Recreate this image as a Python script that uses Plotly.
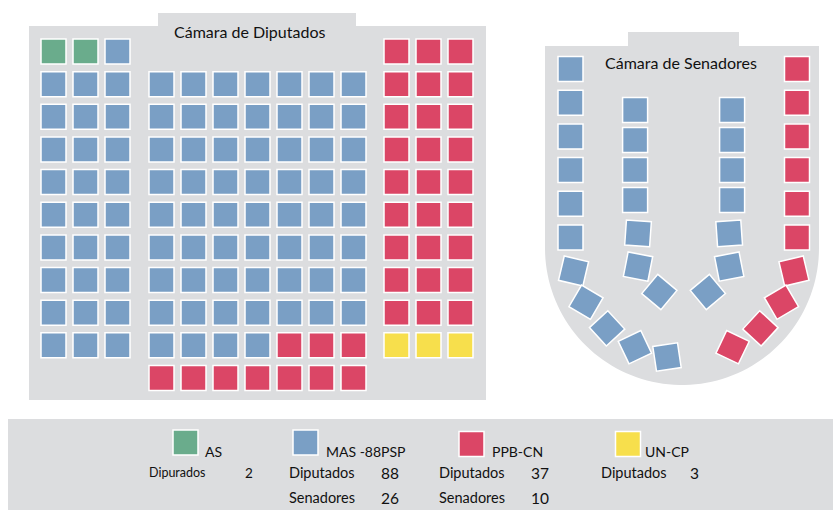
import numpy as np
import plotly.graph_objects as go

# ---------------- data ----------------
parties = ["AS", "MAS -88PSP", "PPB-CN", "UN-CP"]
deputies = [2, 88, 37, 3]
senators = [0, 26, 10, 0]
# seats actually drawn on the senate map of the reference (it shows 25 MAS seats)
senate_map_seats = [0, 25, 10, 0]
deputy_labels = ["Dipurados", "Diputados", "Diputados", "Diputados"]
senator_label = "Senadores"
colors = ["#6aac8c", "#7a9fc5", "#db4666", "#f7df4c"]

# ---------------- layout constants ----------------
W, H = 833, 510
GRAY = "#dcdddf"
FONT = "Lato, Liberation Sans, sans-serif"
SEAT = 25
SEAT_LINE = dict(color="white", width=1.5)

fig = go.Figure()
shapes = []


def rect(x0, y0, x1, y1):
    shapes.append(dict(type="rect", x0=x0, y0=y0, x1=x1, y1=y1,
                       fillcolor=GRAY, line=dict(width=0), layer="below"))


# Chamber of deputies panel
rect(29, 26, 486, 400)
rect(158, 13, 356, 26.5)
# Senate panel (U shape)
scx, scy, sr = 682, 248, 137
pts = [(545, 46), (628, 46), (628, 32), (739, 32), (739, 46), (819, 46), (819, scy)]
for t in np.linspace(0, np.pi, 80):
    pts.append((scx + sr * np.cos(t), scy + sr * np.sin(t)))
path = "M " + " L ".join(f"{x:.2f},{y:.2f}" for x, y in pts) + " Z"
shapes.append(dict(type="path", path=path, fillcolor=GRAY, line=dict(width=0), layer="below"))
# Legend box
rect(8, 419, 833, 510)

# ---------------- deputies seat grid ----------------
PITCH_X, PITCH_Y = 32, 32.65
ROW0 = 51.5
blocks = [  # (first column centre x, n columns, first row, n rows)
    (53.5, 3, 0, 10),
    (161.5, 7, 1, 10),
    (396.5, 3, 0, 10),
]
cells = []
for bx, nc, r0, nr in blocks:
    for r in range(r0, r0 + nr):
        for c in range(nc):
            cells.append((bx + c * PITCH_X, ROW0 + r * PITCH_Y))

# ---------------- senate seat path ----------------
def outer_side(sign):
    cx, cy, r = 683.75, 245, 113.25
    out = []
    for k in range(6):
        out.append((cx + sign * r, 69 + 33.7 * k, 0))
    for k in range(5):
        a = np.radians(13.3 + 17.05 * k)
        out.append((cx + sign * r * np.cos(a), cy + r * np.sin(a), -sign * np.degrees(a)))
    return out


def inner_side(sign):
    cx, cy, r = 683.6, 250, 48.5
    out = []
    for k in range(4):
        out.append((cx + sign * r, 110 + 30 * k, 0))
    for a_deg, tilt in zip([-20, 20, 60], [4, 11, 40]):
        a = np.radians(a_deg)
        out.append((cx + sign * r * np.cos(a), cy + r * np.sin(a), -sign * tilt))
    return out


senate_cells = outer_side(-1) + inner_side(-1) + inner_side(1) + outer_side(1)

# ---------------- seats traces ----------------
i_dep = 0
i_sen = 0
for p, col, nd, ns in zip(parties, colors, deputies, senate_map_seats):
    dc = cells[i_dep:i_dep + nd]
    i_dep += nd
    fig.add_trace(go.Scatter(
        x=[c[0] for c in dc], y=[c[1] for c in dc], mode="markers",
        marker=dict(symbol="square", size=SEAT, color=col, line=SEAT_LINE),
        hoverinfo="skip", showlegend=False))
    if ns:
        sc = senate_cells[i_sen:i_sen + ns]
        i_sen += ns
        fig.add_trace(go.Scatter(
            x=[c[0] for c in sc], y=[c[1] for c in sc], mode="markers",
            marker=dict(symbol="square", size=SEAT, color=col, line=SEAT_LINE,
                        angle=[c[2] for c in sc]),
            hoverinfo="skip", showlegend=False))

# ---------------- titles ----------------
ann = []
ann.append(dict(x=249.5, y=31, text="Cámara de Diputados", showarrow=False,
                font=dict(family=FONT, size=16, color="#111"), xanchor="center", yanchor="middle"))
ann.append(dict(x=680.5, y=62, text="Cámara de Senadores", showarrow=False,
                font=dict(family=FONT, size=16, color="#111"), xanchor="center", yanchor="middle"))

# ---------------- legend ----------------
leg_sq = [(185.5, 442.5), (305.5, 442.5), (471.5, 444), (628, 444)]
leg_name_x = [203, 324, 490, 643]
leg_lab_x = [147, 287, 437, 599]
leg_val_x = [243, 379, 529, 688]
lab_size = [12.5, 14.5, 14.5, 14.5]
for i, p in enumerate(parties):
    fig.add_trace(go.Scatter(
        x=[leg_sq[i][0]], y=[leg_sq[i][1]], mode="markers",
        marker=dict(symbol="square", size=SEAT, color=colors[i], line=SEAT_LINE),
        hoverinfo="skip", showlegend=False))
    ann.append(dict(x=leg_name_x[i], y=451.5, text=p, showarrow=False, xanchor="left", yanchor="middle",
                    font=dict(family=FONT, size=14, color="#111")))
    ann.append(dict(x=leg_lab_x[i], y=472.5, text=deputy_labels[i], showarrow=False, xanchor="left",
                    yanchor="middle", font=dict(family=FONT, size=lab_size[i], color="#111")))
    ann.append(dict(x=leg_val_x[i], y=472.5, text=str(deputies[i]), showarrow=False, xanchor="left",
                    yanchor="middle", font=dict(family=FONT, size=lab_size[i] + 1, color="#111")))
    if senators[i]:
        ann.append(dict(x=leg_lab_x[i], y=497.5, text=senator_label, showarrow=False, xanchor="left",
                        yanchor="middle", font=dict(family=FONT, size=14.5, color="#111")))
        ann.append(dict(x=leg_val_x[i], y=497.5, text=str(senators[i]), showarrow=False, xanchor="left",
                        yanchor="middle", font=dict(family=FONT, size=15.5, color="#111")))

fig.update_layout(
    width=W, height=H, margin=dict(l=0, r=0, t=0, b=0),
    paper_bgcolor="white", plot_bgcolor="white",
    xaxis=dict(range=[0, W], visible=False, fixedrange=True),
    yaxis=dict(range=[H, 0], visible=False, fixedrange=True),
    shapes=shapes, annotations=ann, showlegend=False,
)
fig.write_html("out.html", config={"displayModeBar": False},
               post_script="document.body.style.margin='0';")
